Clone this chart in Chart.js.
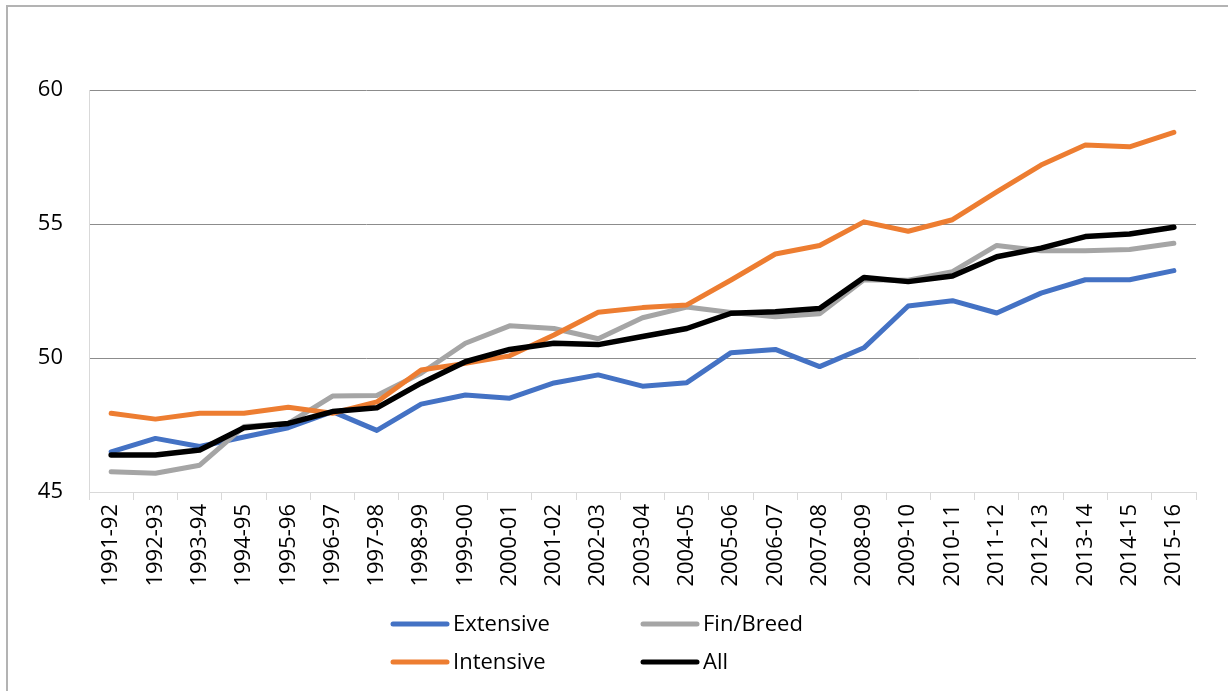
<!DOCTYPE html>
<html>
<head>
<meta charset="utf-8">
<script src="https://cdn.jsdelivr.net/npm/chart.js@4/dist/chart.umd.min.js"></script>
<style>
  html, body { margin: 0; padding: 0; background: #ffffff; }
  #wrap { position: relative; width: 1228px; height: 691px; overflow: hidden; }
  #frame { position: absolute; left: 6px; top: 5px; width: 1300px; height: 800px;
           border-top: 2px solid #b3b3b3; border-left: 2px solid #b3b3b3; box-sizing: border-box; }
  #chart { position: absolute; left: 0; top: 0; }
</style>
</head>
<body>
<div id="wrap">
  <div id="frame"></div>
  <canvas id="chart" width="1228" height="691"></canvas>
</div>
<script>
// Season labels along the x axis
const seasons = [
  '1991-92','1992-93','1993-94','1994-95','1995-96','1996-97','1997-98','1998-99',
  '1999-00','2000-01','2001-02','2002-03','2003-04','2004-05','2005-06','2006-07',
  '2007-08','2008-09','2009-10','2010-11','2011-12','2012-13','2013-14','2014-15','2015-16'
];

// Series values
const extensive = [46.5, 47.0, 46.7, 47.05, 47.4, 48.0, 47.3, 48.28, 48.62, 48.5, 49.07, 49.37, 48.95,
                   49.08, 50.2, 50.32, 49.68, 50.38, 51.94, 52.14, 51.68, 52.42, 52.92, 52.92, 53.26];
const finBreed  = [45.76, 45.7, 46.0, 47.44, 47.56, 48.58, 48.6, 49.43, 50.55, 51.2, 51.1, 50.72, 51.5,
                   51.9, 51.7, 51.54, 51.65, 52.92, 52.9, 53.22, 54.2, 54.0, 54.0, 54.05, 54.28];
const intensive = [47.94, 47.72, 47.94, 47.94, 48.16, 47.94, 48.36, 49.55, 49.8, 50.08, 50.86, 51.71, 51.88,
                   51.98, 52.91, 53.88, 54.2, 55.08, 54.73, 55.16, 56.2, 57.2, 57.95, 57.88, 58.42];
const allFarms  = [46.38, 46.38, 46.57, 47.4, 47.56, 48.0, 48.14, 49.06, 49.86, 50.32, 50.55, 50.5, 50.8,
                   51.1, 51.67, 51.73, 51.85, 53.0, 52.85, 53.06, 53.78, 54.1, 54.53, 54.63, 54.88];

// Value axis range and step
const yMin = 45, yMax = 60, yStep = 5;

const FONT = '"Open Sans", "Liberation Sans", sans-serif';

function series(label, data, color, order, width) {
  return {
    label, data, order,
    borderColor: color, backgroundColor: color,
    borderWidth: width, pointRadius: 0, pointHoverRadius: 0,
    tension: 0, fill: false,
    borderCapStyle: 'round', borderJoinStyle: 'round'
  };
}

// Two-column legend drawn under the axis labels
const gridLegend = {
  id: 'gridLegend',
  afterDraw(chart, args, opts) {
    const ctx = chart.ctx;
    ctx.save();
    ctx.font = opts.font;
    ctx.textBaseline = 'middle';
    ctx.textAlign = 'left';
    opts.layout.forEach((cell) => {
      const ds = chart.data.datasets[cell.index];
      ctx.strokeStyle = ds.borderColor;
      ctx.lineWidth = opts.lineWidth;
      ctx.lineCap = 'round';
      ctx.beginPath();
      ctx.moveTo(cell.x, cell.y);
      ctx.lineTo(cell.x + opts.lineLength, cell.y);
      ctx.stroke();
      ctx.fillStyle = '#000000';
      ctx.fillText(ds.label, cell.x + opts.lineLength + opts.gap, cell.y + 1);
    });
    ctx.restore();
  }
};

new Chart(document.getElementById('chart'), {
  type: 'line',
  data: {
    labels: seasons,
    datasets: [
      series('Extensive', extensive, '#4472C4', 4, 5),
      series('Fin/Breed', finBreed, '#A5A5A5', 3, 5),
      series('Intensive', intensive, '#ED7D31', 2, 5),
      series('All', allFarms, '#000000', 1, 5.5)
    ]
  },
  options: {
    responsive: false,
    animation: false,
    devicePixelRatio: 1,
    layout: { padding: { left: 0, top: 90, right: 32, bottom: 0 } },
    plugins: {
      legend: { display: false },
      tooltip: { enabled: false },
      gridLegend: {
        font: '22px ' + FONT,
        lineWidth: 5,
        lineLength: 54,
        gap: 6,
        layout: [
          { index: 0, x: 393, y: 624 },
          { index: 1, x: 643, y: 624 },
          { index: 2, x: 393, y: 662 },
          { index: 3, x: 643, y: 662 }
        ]
      }
    },
    scales: {
      x: {
        type: 'category',
        offset: true,
        afterFit(scale) { scale.height = 199; },
        grid: {
          offset: true,
          drawOnChartArea: false,
          drawTicks: true,
          tickLength: 8,
          color: '#d9d9d9',
          lineWidth: 1
        },
        border: { display: true, color: '#d9d9d9', width: 1 },
        ticks: {
          autoSkip: false,
          maxRotation: 90,
          minRotation: 90,
          padding: 4,
          color: '#000000',
          font: { family: FONT, size: 22 }
        }
      },
      y: {
        min: yMin,
        max: yMax,
        afterFit(scale) { scale.width = 89; },
        grid: {
          drawTicks: false,
          color: (c) => (c.tick && c.tick.value === yMin ? 'rgba(0,0,0,0)' : '#8c8c8c'),
          lineWidth: 1
        },
        border: { display: true, color: '#d9d9d9', width: 1 },
        ticks: {
          stepSize: yStep,
          padding: 26,
          color: '#000000',
          font: { family: FONT, size: 22 }
        }
      }
    }
  },
  plugins: [gridLegend]
});
</script>
</body>
</html>
